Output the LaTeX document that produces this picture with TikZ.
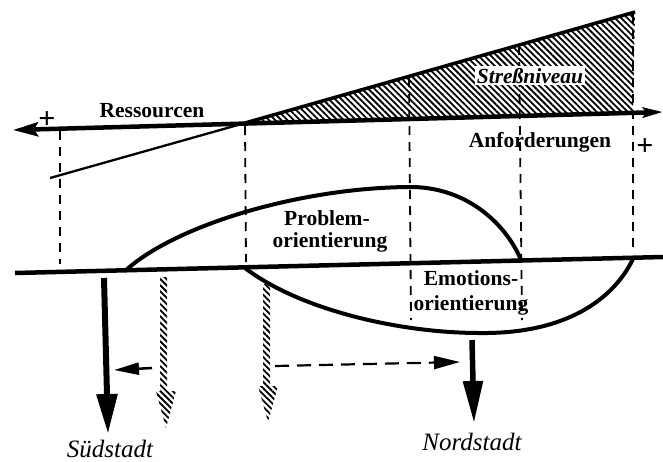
\documentclass[tikz,border=0pt]{standalone}
\usepackage{fontspec}
\setmainfont{Liberation Serif}
\usetikzlibrary{arrows.meta,patterns.meta}
\begin{document}
\begin{tikzpicture}[x=1pt,y=-1pt,
  hatch/.style={pattern={Lines[angle=-45,distance=4.4pt,line width=1.8pt]}},
  guide/.style={line width=1.8pt,dash pattern=on 9pt off 7pt},
  heavy/.style={line width=4.5pt},
  curve/.style={line width=4pt},
  lbl/.style={font=\fontsize{21.5}{22}\selectfont\bfseries,inner sep=0pt,anchor=base},
  plus/.style={font=\fontsize{30}{30}\selectfont\bfseries,inner sep=0pt,anchor=center},
  town/.style={font=\fontsize{25}{25}\selectfont\itshape,inner sep=0pt,anchor=base},
]
\useasboundingbox (0,0) rectangle (663,461);

% key points of the two axes
\coordinate (cross) at (245,123);
\coordinate (apex) at (635,12);
\coordinate (wedgeR) at (633,113);
\coordinate (axL) at (13,130);
\coordinate (axR) at (663,112);
\coordinate (resL) at (50,178);
\coordinate (baseL) at (15,273);
\coordinate (baseR) at (663,257);

% stress wedge
\fill[hatch] (cross) -- (apex) -- (wedgeR) -- cycle;

% dashed guide lines
\draw[guide] (60,131) -- (60,264);
\draw[guide] (245,126) -- (246,262);
\draw[guide] (409,78) -- (411,320);
\draw[guide] (519,46) -- (522,320);
\draw[guide] (633,14) -- (633,252);

% resources line and stress boundary
\draw[line width=2.3pt] (resL) -- (cross);
\draw[line width=3.5pt] (cross) -- (apex);

% main axis
\draw[heavy,{Stealth[length=25pt,width=14pt,inset=4pt]}-{Stealth[length=20pt,width=10pt,inset=3pt]}] (axL) -- (axR);

% base line
\draw[heavy] (baseL) -- (baseR);

% coping curves
\coordinate (pS) at (125,271);
\coordinate (pTop) at (408,187);
\coordinate (pE) at (521,260);
\draw[curve] (pS) .. controls (175,225) and (300,188) .. (pTop)
  .. controls (468,186) and (507,226) .. (pE);
\coordinate (eS) at (245,268);
\coordinate (eBot) at (480,333);
\coordinate (eE) at (633,259);
\draw[curve] (eS) .. controls (300,310) and (400,333) .. (eBot)
  .. controls (565,334) and (613,300) .. (eE);

% hatched arrows
\fill[hatch] (160,277) -- (167,277) -- (167,391) -- (176,391) -- (166,428)
  -- (156,391) -- (160,391) -- cycle;
\fill[hatch] (263,284) -- (270,284) -- (270,386) -- (278,386) -- (268,422)
  -- (258,386) -- (263,386) -- cycle;

% solid arrows to the towns
\coordinate (sTop) at (104,278);
\coordinate (sTip) at (108,434);
\draw[line width=6pt,-{Triangle[length=40pt,width=20pt]}] (sTop) -- (sTip);
\coordinate (nTop) at (472,340);
\coordinate (nTip) at (474,423);
\draw[line width=5.5pt,-{Triangle[length=42pt,width=19pt]}] (nTop) -- (nTip);

% shift arrows
\coordinate (dS) at (275,366);
\coordinate (dE) at (460,362);
\draw[line width=2.2pt,dash pattern=on 14pt off 8pt,-{Triangle[length=26pt,width=13pt]}] (dS) -- (dE);
\coordinate (lS) at (152,368);
\coordinate (lE) at (114,370);
\draw[line width=2.5pt,-{Triangle[length=25pt,width=12pt]}] (lS) -- (lE);

% labels
\node[plus] (plusL) at (47,120) {+};
\node[plus] (plusR) at (645,147) {+};
\node[lbl] (res) at (152,117) {Ressourcen};
\node[lbl] (anf) at (540,147) {Anforderungen};
\node[lbl,font=\fontsize{21.5}{22}\selectfont\bfseries\itshape,fill=white,inner sep=2pt] (stress) at (530,83) {Streßniveau};
\node[lbl] (prob1) at (327,225) {Problem-};
\node[lbl] (prob2) at (330,247) {orientierung};
\node[lbl] (emo1) at (471,285) {Emotions-};
\node[lbl] (emo2) at (471,310) {orientierung};
\node[town] (sued) at (110,457) {Südstadt};
\node[town] (nord) at (472,450) {Nordstadt};
\end{tikzpicture}
\end{document}
